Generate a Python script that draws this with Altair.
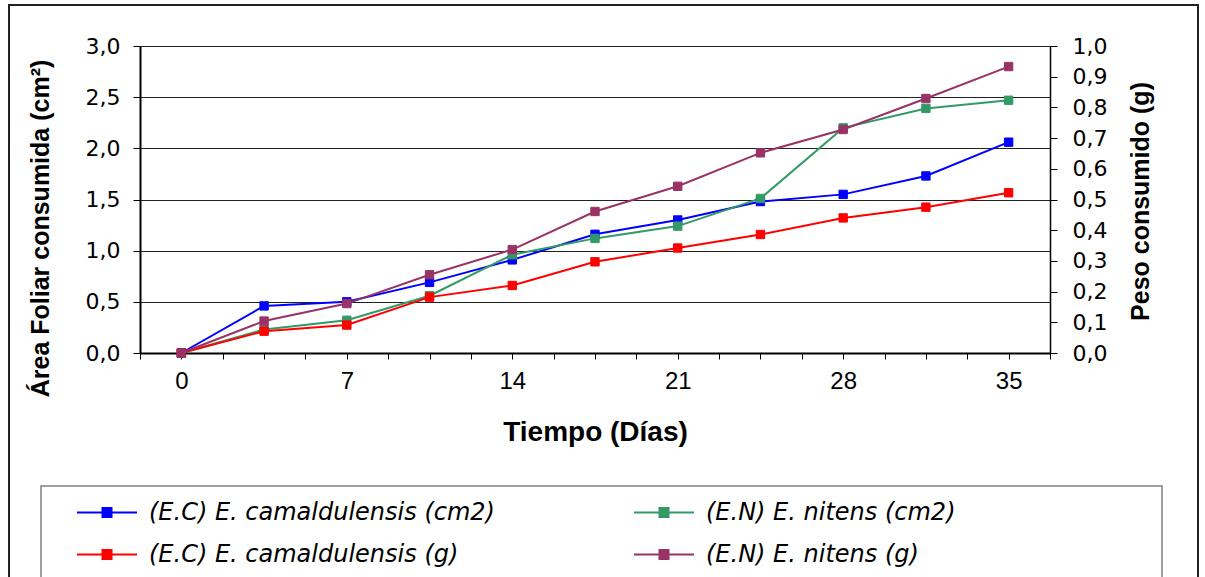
import altair as alt
import pandas as pd

# ---- data ----
days = [0, 3.5, 7, 10.5, 14, 17.5, 21, 24.5, 28, 31.5, 35]
ec_cm2 = [0, 0.46, 0.50, 0.69, 0.91, 1.16, 1.30, 1.48, 1.55, 1.73, 2.06]
en_cm2 = [0, 0.23, 0.32, 0.56, 0.96, 1.12, 1.24, 1.51, 2.20, 2.39, 2.47]
ec_g = [0, 0.071, 0.091, 0.182, 0.220, 0.297, 0.342, 0.386, 0.440, 0.475, 0.522]
en_g = [0, 0.104, 0.161, 0.255, 0.337, 0.461, 0.543, 0.652, 0.728, 0.829, 0.933]

name_ec_cm2 = "(E.C) E. camaldulensis (cm2)"
name_en_cm2 = "(E.N) E. nitens (cm2)"
name_ec_g = "(E.C) E. camaldulensis (g)"
name_en_g = "(E.N) E. nitens (g)"

# legend fills column by column: col 1 = E.C entries, col 2 = E.N entries
legend_order = [name_ec_cm2, name_ec_g, name_en_cm2, name_en_g]
legend_colors = ["#0000FF", "#FF0000", "#339966", "#993366"]

x_ticks = [-1.75, 0, 1.75, 3.5, 5.25, 7, 8.75, 10.5, 12.25, 14, 15.75, 17.5,
           19.25, 21, 22.75, 24.5, 26.25, 28, 29.75, 31.5, 33.25, 35, 36.75]
left_ticks = [0, 0.5, 1.0, 1.5, 2.0, 2.5, 3.0]
right_ticks = [0, 0.1, 0.2, 0.3, 0.4, 0.5, 0.6, 0.7, 0.8, 0.9, 1.0]

rows_area = []
for name, vals in [(name_ec_cm2, ec_cm2), (name_en_cm2, en_cm2)]:
    for d, v in zip(days, vals):
        rows_area.append({"day": d, "value": v, "series": name})
rows_mass = []
for name, vals in [(name_ec_g, ec_g), (name_en_g, en_g)]:
    for d, v in zip(days, vals):
        rows_mass.append({"day": d, "value": v, "series": name})
df_area = pd.DataFrame(rows_area)
df_mass = pd.DataFrame(rows_mass)

W, H = 910, 307
comma_fmt = "replace(format(datum.value, '.1f'), '.', ',')"

legend = alt.Legend(
    title=None,
    orient="none",
    legendX=-45,
    legendY=454.5,
    columns=2,
    columnPadding=135,
    rowPadding=18,
    padding=0,
    labelFont="DejaVu Sans",
    labelFontStyle="italic",
    labelFontSize=24,
    labelColor="#000000",
    labelLimit=800,
    labelOffset=30,
    symbolType="M-6,0H6M-0.9,-0.9H0.9V0.9H-0.9Z",
    symbolSize=100,
    symbolStrokeWidth=2,
    symbolOpacity=1,
)

stroke = alt.Stroke("series:N", scale=alt.Scale(domain=legend_order, range=legend_colors), legend=legend)
fill = alt.Fill("series:N", scale=alt.Scale(domain=legend_order, range=legend_colors), legend=legend)

x_enc = alt.X(
    "day:Q",
    scale=alt.Scale(domain=[-1.75, 36.75], nice=False, zero=False),
    axis=alt.Axis(
        values=x_ticks,
        labelExpr="datum.value % 7 == 0 ? datum.label : ''",
        title="Tiempo (Días)",
        titleX=455,
        titleY=79,
        titleAlign="center",
        titleBaseline="middle",
        titleFont="Liberation Sans",
        titleFontWeight="bold",
        titleFontSize=28,
        titleColor="#000000",
        labelFont="Liberation Sans",
        labelFontSize=24,
        labelColor="#000000",
        labelPadding=10,
        tickSize=6,
        tickColor="#000000",
        domainColor="#000000",
        domainWidth=2,
        grid=False,
    ),
)

y_left = alt.Y(
    "value:Q",
    scale=alt.Scale(domain=[0, 3], nice=False),
    axis=alt.Axis(
        orient="left",
        values=left_ticks,
        labelExpr=comma_fmt,
        title="Área Foliar consumida (cm²)",
        titleAngle=-90,
        titleX=-100,
        titleY=182,
        titleAlign="center",
        titleBaseline="middle",
        titleFont="Liberation Sans",
        titleFontWeight="bold",
        titleFontSize=25,
        titleColor="#000000",
        labelFont="DejaVu Sans",
        labelFontSize=22,
        labelColor="#000000",
        labelPadding=13,
        tickSize=7,
        tickColor="#000000",
        domainColor="#000000",
        domainWidth=2,
        grid=True,
        gridColor="#222222",
        gridWidth=1,
    ),
)

y_right = alt.Y(
    "value:Q",
    scale=alt.Scale(domain=[0, 1], nice=False),
    axis=alt.Axis(
        orient="right",
        values=right_ticks,
        labelExpr=comma_fmt,
        title="Peso consumido (g)",
        titleAngle=-90,
        titleX=90,
        titleY=155,
        titleAlign="center",
        titleBaseline="middle",
        titleFont="Liberation Sans",
        titleFontWeight="bold",
        titleFontSize=25,
        titleColor="#000000",
        labelFont="DejaVu Sans",
        labelFontSize=22,
        labelColor="#000000",
        labelPadding=15,
        tickSize=7,
        tickColor="#000000",
        domainColor="#000000",
        domainWidth=1.5,
        grid=False,
    ),
)

base_left = alt.Chart(df_area).encode(x=x_enc, y=y_left)
left = alt.layer(
    base_left.mark_line(strokeWidth=2).encode(stroke=stroke),
    base_left.mark_point(shape="square", filled=True, size=70, opacity=1, strokeWidth=1).encode(
        stroke=stroke, fill=fill
    ),
)

base_right = alt.Chart(df_mass).encode(x=x_enc, y=y_right)
right = alt.layer(
    base_right.mark_line(strokeWidth=2).encode(stroke=stroke),
    base_right.mark_point(shape="square", filled=True, size=70, opacity=1, strokeWidth=1).encode(
        stroke=stroke, fill=fill
    ),
)

frame_df = pd.DataFrame({"k": [0]})
outer_frame = alt.Chart(frame_df).mark_rect(
    fill=None, stroke="#222222", strokeWidth=2, filled=False
).encode(x=alt.value(-131), x2=alt.value(1058), y=alt.value(-41), y2=alt.value(600))
legend_box = alt.Chart(frame_df).mark_rect(
    fill=None, stroke="#808080", strokeWidth=1.5, filled=False
).encode(x=alt.value(-99), x2=alt.value(1022), y=alt.value(440), y2=alt.value(600))

chart = (
    alt.layer(left, right, outer_frame, legend_box)
    .resolve_scale(y="independent")
    .properties(
        width=W,
        height=H,
        padding={"left": 140, "top": 46, "right": 155, "bottom": 224},
        autosize=alt.AutoSizeParams(type="none"),
        background="#FFFFFF",
    )
    .configure_view(stroke=None)
)

chart.save("out.html", embed_options={"renderer": "svg", "actions": False})
